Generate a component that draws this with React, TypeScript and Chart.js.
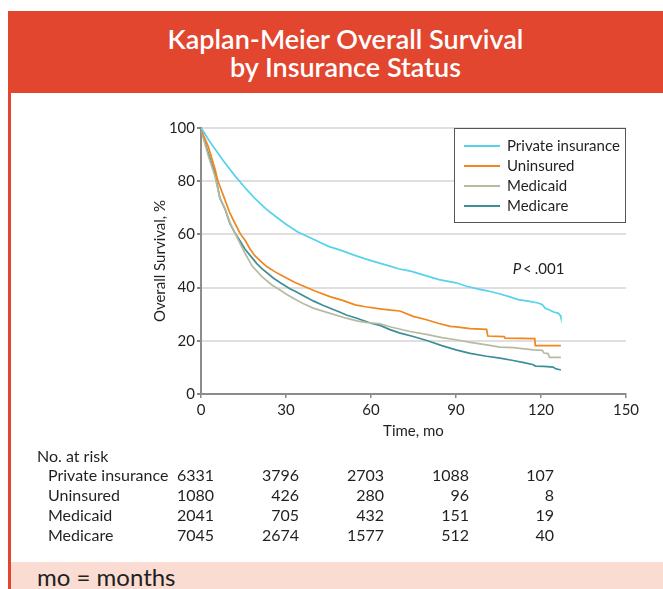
import React, { useEffect, useRef } from 'react';
import { Chart, registerables } from 'chart.js';
Chart.register(...registerables);

const seriesNames = ['Private insurance', 'Uninsured', 'Medicaid', 'Medicare'];
const seriesColors = ['#55d2ec', '#f0861e', '#b8baa0', '#3c8f99'];

const privateTime = [0, 1, 3, 5, 8, 12, 16, 19, 23, 26, 30, 34, 37, 41, 45, 50, 54, 58, 63, 67, 70, 74, 79, 84, 90, 94, 98, 101, 105, 109, 112, 116, 119, 120.5, 121.5, 123, 124.5, 126, 126.8, 127];
const privateSurv = [100, 98.5, 95, 92, 87.5, 82, 77, 73.5, 69.5, 67, 63.8, 61, 59.5, 57.5, 55.5, 53.8, 52.2, 50.8, 49.2, 48, 47, 46.2, 44.6, 43, 41.8, 40.4, 39.4, 38.8, 37.8, 36.5, 35.5, 34.8, 34.2, 33.6, 32.2, 31.6, 30.8, 30.4, 29.6, 28.8];

const uninsuredTime = [0, 1, 2.6, 4.9, 6, 8.5, 10, 12, 14, 15.5, 17.3, 19, 21.4, 23.2, 26, 28, 30, 33, 36.7, 40, 45.5, 50, 54.4, 58, 63.2, 67, 70.2, 74.9, 79.6, 84, 88, 90, 95, 100.8, 101.2, 107, 107.3, 117.8, 118, 127];
const uninsuredSurv = [100, 97, 92.9, 84.7, 80, 72.9, 68.5, 64.1, 60, 57.9, 54.5, 52, 49.6, 47.9, 46, 44.8, 43.7, 42, 40.3, 38.8, 36.6, 35.2, 33.5, 32.8, 32, 31.5, 31.2, 29.2, 27.9, 26.5, 25.4, 25.2, 24.6, 24.3, 21.8, 21.6, 21.0, 20.8, 18.2, 18.2];

const medicaidTime = [0, 1, 2.6, 4.9, 6.7, 8.5, 10.2, 12, 13.8, 15.5, 18, 21.4, 25, 27.9, 30, 33.2, 36, 39.6, 45, 51.3, 55, 58, 63.2, 67, 73.8, 80, 85, 90, 95, 100.8, 105.5, 110.2, 117.3, 120.5, 121, 122.5, 123, 127];
const medicaidSurv = [100, 95.5, 89.5, 82, 73.5, 69.5, 64.5, 60.5, 56.5, 53, 48.2, 44.2, 41, 39.1, 37.6, 35.6, 34, 32.3, 30.5, 28.5, 27.5, 26.9, 26.4, 25.2, 23.5, 22.3, 21.2, 20.4, 19.4, 18.5, 17.6, 17.4, 16.6, 16.4, 15.4, 15.2, 13.8, 13.8];

const medicareTime = [0, 1, 2.6, 4.9, 6.7, 8.5, 10.2, 12, 13.8, 15.5, 19.7, 21.4, 25.5, 28, 31.4, 33.2, 37.3, 39.6, 43.2, 49.1, 51.3, 55, 60, 63.2, 66.7, 70, 74.9, 80, 85, 90, 95, 100.8, 105.5, 110.2, 114, 117.3, 118, 121, 124.3, 125, 126, 127];
const medicareSurv = [100, 96, 90.4, 82.9, 73.5, 69.5, 64.1, 60.5, 57.5, 54.5, 49, 47.2, 43.6, 41.8, 39.6, 38.6, 36.3, 35, 33.3, 30.7, 29.7, 28.5, 26.6, 25.8, 24.2, 23, 21.6, 20, 18.2, 16.6, 15.3, 14.2, 13.5, 12.6, 11.8, 11, 10.5, 10.4, 10.1, 9.6, 9.3, 9.1];

const riskTimes = [0, 30, 60, 90, 120];
const riskPrivate = [6331, 3796, 2703, 1088, 107];
const riskUninsured = [1080, 426, 280, 96, 8];
const riskMedicaid = [2041, 705, 432, 151, 19];
const riskMedicare = [7045, 2674, 1577, 512, 40];

const xMin = 0, xMax = 150, xStep = 30;
const yMin = 0, yMax = 100, yStep = 20;
const pValueLabel = '.001';
const pAnchor = { x: 110, y: 47 };

const FONT = 'Lato, "Open Sans", "DejaVu Sans", sans-serif';
const TEXT = '#231f20';

function pts(t: number[], s: number[]) {
  return t.map((x, i) => ({ x, y: s[i] }));
}

export default function App() {
  const ref = useRef<HTMLCanvasElement | null>(null);
  useEffect(() => {
    const canvas = ref.current;
    if (!canvas) return;
    const series = [
      pts(privateTime, privateSurv),
      pts(uninsuredTime, uninsuredSurv),
      pts(medicaidTime, medicaidSurv),
      pts(medicareTime, medicareSurv),
    ];
    const riskRows = [riskPrivate, riskUninsured, riskMedicaid, riskMedicare];

    const overlay = {
      id: 'overlay',
      afterDraw(chart: any) {
        const ctx = chart.ctx;
        const ca = chart.chartArea;
        const xs = chart.scales.x;
        const ys = chart.scales.y;
        ctx.save();
        // legend box
        const bw = 172, bh = 95;
        const bx = ca.right - bw, by = ca.top;
        ctx.fillStyle = '#ffffff';
        ctx.fillRect(bx, by, bw, bh);
        ctx.strokeStyle = '#555555';
        ctx.lineWidth = 1;
        ctx.strokeRect(bx + 0.5, by + 0.5, bw - 1, bh - 1);
        ctx.font = '15px ' + FONT;
        ctx.textBaseline = 'middle';
        ctx.textAlign = 'left';
        seriesNames.forEach((n, i) => {
          const yy = by + 18 + i * 20;
          ctx.strokeStyle = seriesColors[i];
          ctx.lineWidth = 1.8;
          ctx.beginPath();
          ctx.moveTo(bx + 10, yy);
          ctx.lineTo(bx + 46, yy);
          ctx.stroke();
          ctx.fillStyle = TEXT;
          ctx.fillText(n, bx + 53, yy);
        });
        // p value
        const px = xs.getPixelForValue(pAnchor.x);
        const py = ys.getPixelForValue(pAnchor.y);
        ctx.font = 'italic 15px ' + FONT;
        ctx.fillText('P', px, py);
        const pw = ctx.measureText('P').width;
        ctx.font = '15px ' + FONT;
        ctx.fillText('<', px + pw + 2, py);
        const lw = ctx.measureText('<').width;
        ctx.fillText(pValueLabel, px + pw + lw + 5, py);
        // risk table
        ctx.font = '16px ' + FONT;
        ctx.fillStyle = TEXT;
        ctx.textAlign = 'left';
        ctx.fillText('No. at risk', ca.left - 164, ca.bottom + 63);
        riskRows.forEach((row, r) => {
          const yy = ca.bottom + 82 + r * 20;
          ctx.textAlign = 'left';
          ctx.fillText(seriesNames[r], ca.left - 153, yy);
          ctx.textAlign = 'right';
          row.forEach((v, c) => {
            ctx.fillText(String(v), xs.getPixelForValue(riskTimes[c]) + 13, yy);
          });
        });
        ctx.restore();
      },
    };

    const chart = new Chart(canvas, {
      type: 'line',
      data: {
        datasets: seriesNames.map((n, i) => ({
          label: n,
          data: series[i],
          borderColor: seriesColors[i],
          backgroundColor: seriesColors[i],
          borderWidth: 1.7,
          pointRadius: 0,
          tension: 0,
          fill: false,
        })),
      },
      options: {
        responsive: false,
        animation: false,
        layout: { padding: { left: 130, right: 37, top: 35, bottom: 118 } },
        plugins: { legend: { display: false }, tooltip: { enabled: false } },
        scales: {
          x: {
            type: 'linear',
            min: xMin,
            max: xMax,
            ticks: { stepSize: xStep, color: TEXT, font: { family: FONT, size: 15 }, padding: 3 },
            grid: { drawOnChartArea: false, drawTicks: true, tickLength: 4, tickColor: '#888888', lineWidth: 1.5 },
            border: { color: '#8c8c8c', width: 2 },
            title: { display: true, text: 'Time, mo', color: TEXT, font: { family: FONT, size: 15 }, padding: { top: 0, bottom: 4 } },
            afterFit: (s: any) => { s.height = 50; },
          },
          y: {
            min: yMin,
            max: yMax,
            ticks: { stepSize: yStep, color: TEXT, font: { family: FONT, size: 15 }, padding: 2 },
            grid: { color: '#dfdfdf', lineWidth: 2, tickLength: 4, tickColor: '#888888' },
            border: { color: '#8c8c8c', width: 2 },
            title: { display: true, text: 'Overall Survival, %', color: TEXT, font: { family: FONT, size: 15 }, padding: { top: 10, bottom: 0 } },
            afterFit: (s: any) => { s.width = 60; },
          },
        },
      },
      plugins: [overlay],
    } as any);
    return () => chart.destroy();
  }, []);

  const red = '#e2462f';
  return (
    <div style={{ position: 'absolute', left: 0, top: 0, width: 663, height: 589, background: '#ffffff', overflow: 'hidden' }}>
      <div style={{ position: 'absolute', left: 8, top: 11, width: 655, height: 82, background: red }}>
        <div style={{ position: 'absolute', left: 0, top: 14, width: 675, textAlign: 'center', color: '#ffffff', fontFamily: FONT, fontWeight: 600, fontSize: 27, lineHeight: '28px' }}>
          <div>Kaplan-Meier Overall Survival</div>
          <div>by Insurance Status</div>
        </div>
      </div>
      <div style={{ position: 'absolute', left: 8, top: 93, width: 3, height: 496, background: red }} />
      <canvas ref={ref} width={652} height={469} style={{ position: 'absolute', left: 11, top: 93, width: 652, height: 469 }} />
      <div style={{ position: 'absolute', left: 11, top: 562, width: 652, height: 27, background: '#fadcd3' }}>
        <div style={{ position: 'absolute', left: 26, top: 1, fontFamily: FONT, fontSize: 24, color: TEXT, lineHeight: '27px' }}>mo = months</div>
      </div>
    </div>
  );
}
